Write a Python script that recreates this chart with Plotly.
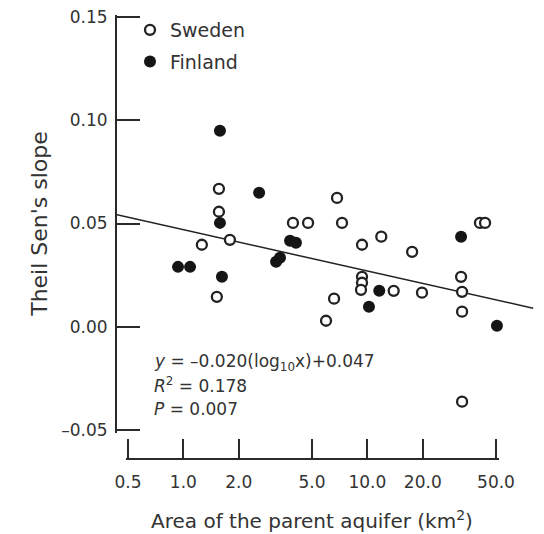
import numpy as np
import plotly.graph_objects as go

# ---------------- data ----------------
sweden_area = [1.56, 1.56, 1.26, 1.79, 1.52, 3.94, 4.76, 7.28, 6.84, 9.35, 11.9,
               9.35, 9.35, 9.23, 6.59, 5.96, 17.5, 32.3, 32.7, 40.9, 43.6, 13.9,
               19.8, 32.7, 32.7]
sweden_slope = [0.0668, 0.0557, 0.0397, 0.0421, 0.0145, 0.0503, 0.0503, 0.0503,
                0.0624, 0.0397, 0.0436, 0.0242, 0.0213, 0.0179, 0.0136, 0.0029,
                0.0363, 0.0242, 0.0169, 0.0503, 0.0503, 0.0174, 0.0165, 0.0073,
                -0.0363]

finland_area = [1.58, 2.58, 1.58, 0.935, 1.087, 1.62, 3.80, 4.09, 3.19, 3.35,
                11.6, 10.2, 32.3, 50.6]
finland_slope = [0.0949, 0.0649, 0.0503, 0.0290, 0.0290, 0.0242, 0.0416, 0.0407,
                 0.0315, 0.0334, 0.0174, 0.0097, 0.0436, 0.0005]

fit_slope = -0.020
fit_intercept = 0.047

x_tick_vals = [0.5, 1, 2, 5, 10, 20, 50]
x_tick_text = ["0.5", "1.0", "2.0", "5.0", "10.0", "20.0", "50.0"]
y_tick_vals = [-0.05, 0.0, 0.05, 0.10, 0.15]
y_tick_text = ["\u20130.05", "0.00", "0.05", "0.10", "0.15"]

# ---------------- layout geometry (page pixels) ----------------
W, H = 544, 534
OFF = 8                      # page body margin
P_LEFT, P_RIGHT, P_TOP, P_BOT = 117, 535, 13, 459
ML, MT = P_LEFT - OFF, P_TOP - OFF
MR, MB = W - (P_RIGHT - OFF), H - (P_BOT - OFF)
PW, PH = P_RIGHT - P_LEFT, P_BOT - P_TOP


def pxx(p):
    return (p - P_LEFT) / PW


def pxy(p):
    return (P_BOT - p) / PH


DEC = 184.0                  # pixels per decade on x
YPX = 103.25 / 0.05          # pixels per unit on y
E = 2.5                      # pixel slack so end ticks are kept
X05, X50 = 128, 496
Y_TOP, Y_BOT = 17, 430

x_range = [np.log10(0.5) - (X05 - P_LEFT) / DEC, np.log10(0.5) + (P_RIGHT - X05) / DEC]

FONT = "DejaVu Sans"
TXT = "#333333"
AX = "#2a2a2a"

fig = go.Figure()

# regression line across the plot
xf = np.logspace(x_range[0], x_range[1] - 0.01, 50)
fig.add_trace(go.Scatter(x=xf, y=fit_slope * np.log10(xf) + fit_intercept,
                         mode="lines", line=dict(color="#222222", width=1.5),
                         showlegend=False, hoverinfo="skip"))

fig.add_trace(go.Scatter(x=sweden_area, y=sweden_slope, mode="markers", name="Sweden",
                         legendgroup="s",
                         marker=dict(symbol="circle", size=10, color="white",
                                     line=dict(color="#222222", width=2.3))))
fig.add_trace(go.Scatter(x=finland_area, y=finland_slope, mode="markers", name="Finland",
                         legendgroup="f",
                         marker=dict(symbol="circle", size=12, color="#151515",
                                     line=dict(width=0))))

# invisible trace to materialise the displayed x axis
fig.add_trace(go.Scatter(x=[1], y=[0], xaxis="x2", yaxis="y", mode="markers",
                         marker=dict(opacity=0), showlegend=False, hoverinfo="skip"))

fig.update_layout(
    width=W, height=H,
    margin=dict(l=ML, r=MR, t=MT, b=MB, autoexpand=False),
    paper_bgcolor="white", plot_bgcolor="rgba(0,0,0,0)",
    font=dict(family=FONT, color=TXT, size=17),
    xaxis=dict(type="log", range=x_range, domain=[0, 1], visible=False),
    xaxis2=dict(type="log",
                domain=[pxx(X05 - E), pxx(X50 + E)],
                range=[np.log10(0.5) - E / DEC, np.log10(50) + E / DEC],
                anchor="free", position=0,
                showline=True, linecolor=AX, linewidth=2,
                ticks="inside", ticklen=19, tickwidth=2, tickcolor=AX,
                tickvals=x_tick_vals, ticktext=x_tick_text,
                tickfont=dict(size=17, color=TXT), ticklabelstandoff=8,
                ticklabeloverflow="allow",
                showgrid=False, zeroline=False,
                title=dict(text="Area of the parent aquifer (km<sup>2</sup>)",
                           font=dict(size=20, color=TXT), standoff=22)),
    yaxis=dict(range=[-0.05 - E / YPX, 0.15 + E / YPX],
               domain=[pxy(Y_BOT + E), pxy(Y_TOP - E)], anchor="x",
               showline=True, linecolor=AX, linewidth=2,
               ticks="inside", ticklen=23, tickwidth=2, tickcolor=AX,
               tickvals=y_tick_vals, ticktext=y_tick_text,
               tickfont=dict(size=17, color=TXT), ticklabelstandoff=4,
               ticklabeloverflow="allow",
               showgrid=False, zeroline=False,
               title=dict(text="Theil Sen's slope", font=dict(size=22, color=TXT),
                          standoff=8)),
    legend=dict(x=pxx(130), y=pxy(11), xanchor="left", yanchor="top",
                bgcolor="rgba(0,0,0,0)", borderwidth=0, tracegroupgap=4,
                font=dict(size=19, color=TXT)),
    showlegend=True,
)

eq_lines = ["<i>y</i> = \u20130.020(log<sub>10</sub>x)+0.047",
            "<i>R</i><sup>2</sup> = 0.178",
            "<i>P</i> = 0.007"]
eq_px = [362, 385, 409]
for t, py in zip(eq_lines, eq_px):
    fig.add_annotation(text=t, xref="paper", yref="paper",
                       x=pxx(152), y=pxy(py),
                       xanchor="left", yanchor="middle", showarrow=False,
                       font=dict(size=17, color=TXT))

fig.write_html("out.html")
